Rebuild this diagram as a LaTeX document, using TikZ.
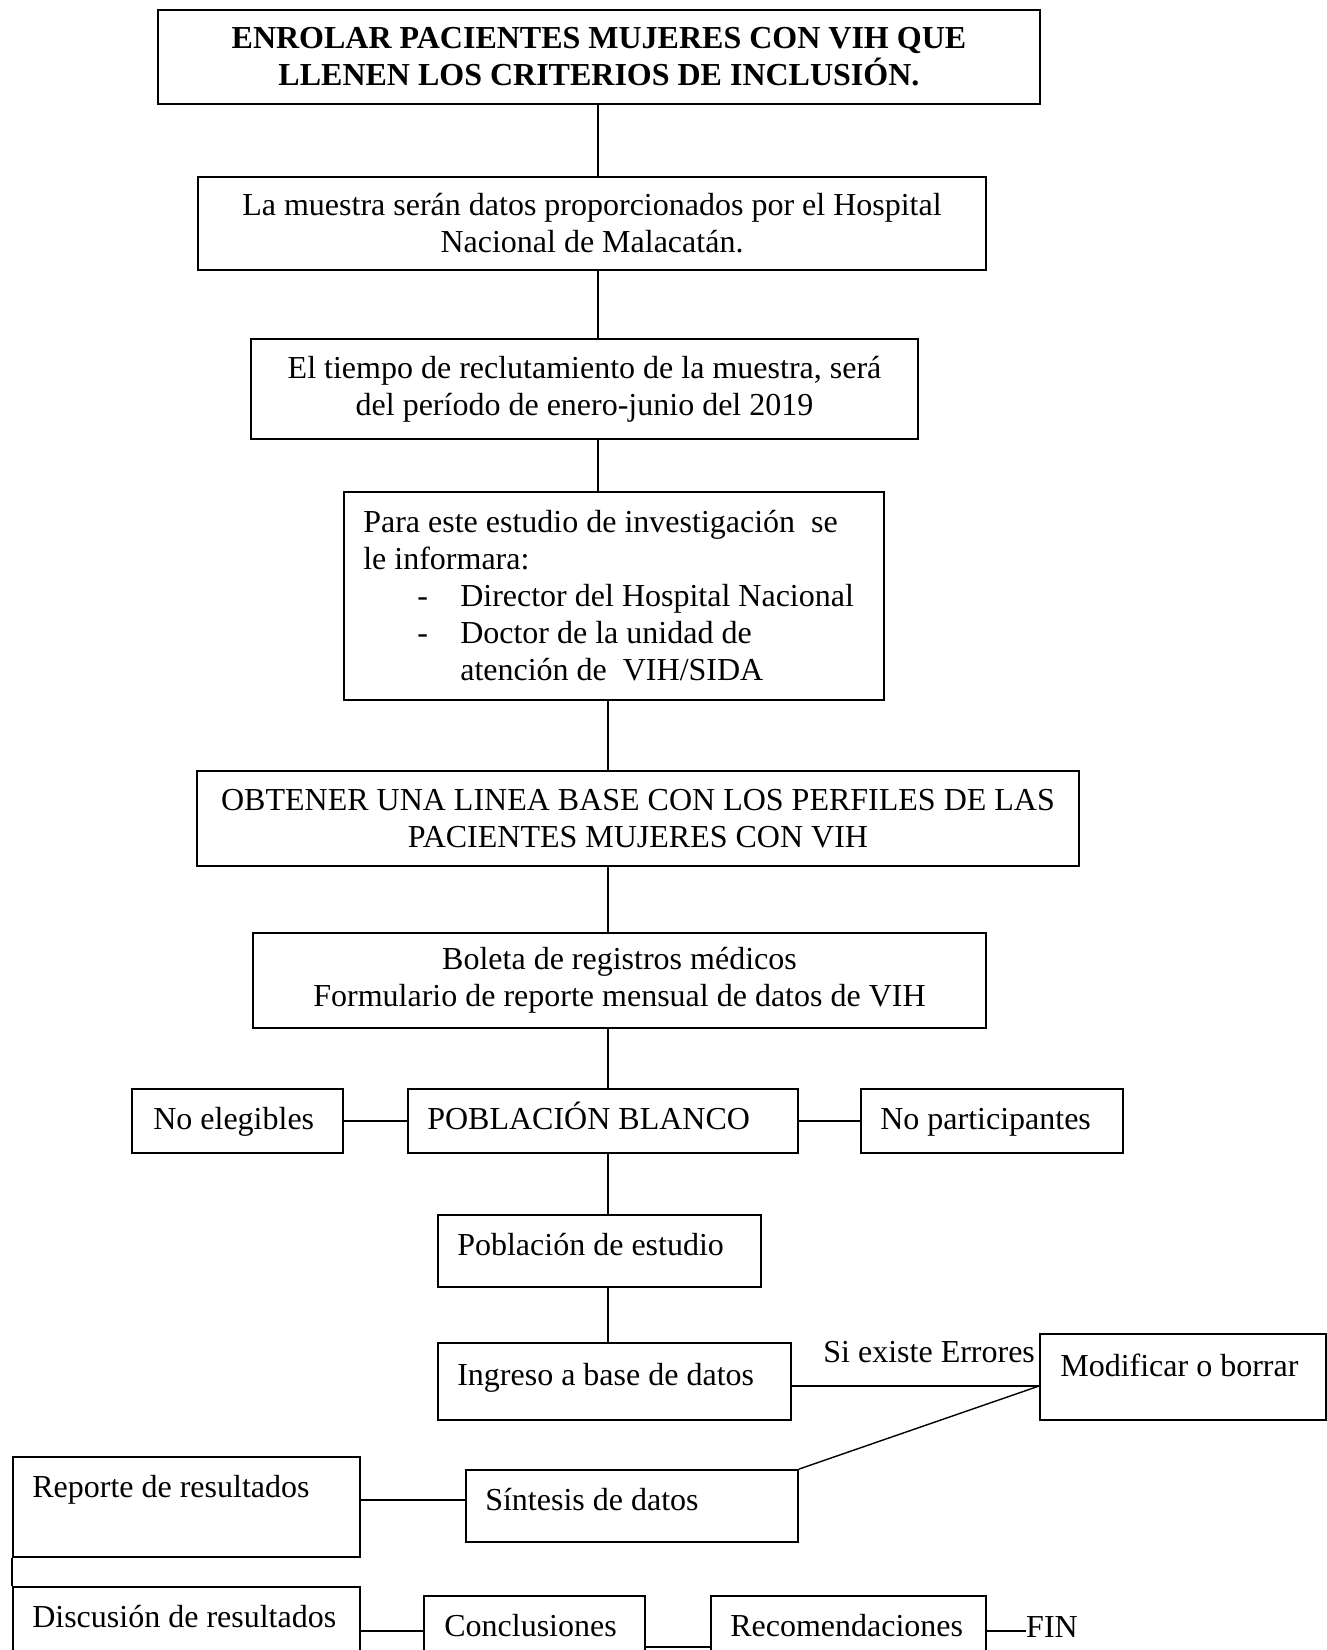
\documentclass[tikz,border=0pt]{standalone}
\usepackage{fontspec}
\setmainfont{Liberation Serif}
\usetikzlibrary{positioning}

\newcommand{\flowfont}{\fontsize{32}{37}\selectfont}

\tikzset{
  box/.style={draw, line width=1.8pt, inner sep=0pt, align=center},
  txt/.style={inner sep=0pt, anchor=base west},
  link/.style={line width=1.4pt}
}

\begin{document}
\begin{tikzpicture}[x=1pt, y=-1pt, font=\flowfont]
  \useasboundingbox (0, 0) rectangle (1327, 1650); % page
  \coordinate (spineA) at (598, 0); % upper trunk
  \coordinate (spineB) at (608, 0); % lower trunk
  \coordinate (errrow) at (0, 1386); % error branch
  \coordinate (midrow) at (0, 1500); % reporte link
  \coordinate (lowrow) at (0, 1631); % last row links
  \coordinate (baserow) at (0, 1647); % conclusiones link

  % main column
  \node[box, minimum width=882pt, minimum height=94pt, font={\flowfont\bfseries}] (enrolar) at (599, 57) {ENROLAR PACIENTES MUJERES CON VIH QUE\\LLENEN LOS CRITERIOS DE INCLUSIÓN.};
  \node[box, minimum width=788pt, minimum height=93pt] (muestra) at (592, 223.5) {La muestra serán datos proporcionados por el Hospital\\Nacional de Malacatán.};
  \node[box, minimum width=667pt, minimum height=100pt] (tiempo) at (584.5, 389) {El tiempo de reclutamiento de la muestra, será\\del período de enero-junio del 2019};
  \node[box, minimum width=540pt, minimum height=208pt] (informar) at (614, 596) {};
  \node[txt, anchor=west, align=left] (informar-t) at ([shift={(20, 0)}]informar.west) {Para este estudio de investigación\ \ se\\le informara:\\\hspace*{54pt}\makebox[43pt][l]{-}Director del Hospital Nacional\\\hspace*{54pt}\makebox[43pt][l]{-}Doctor de la unidad de\\\hspace*{97pt}atención de\ \ VIH/SIDA};
  \node[box, minimum width=882pt, minimum height=95pt] (lineabase) at (638, 818.5) {OBTENER UNA LINEA BASE CON LOS PERFILES DE LAS\\PACIENTES MUJERES CON VIH};
  \node[box, minimum width=733pt, minimum height=95pt] (boleta) at (619.5, 980.5) {Boleta de registros médicos\\Formulario de reporte mensual de datos de VIH};

  % population row
  \node[box, minimum width=211pt, minimum height=64pt] (noeleg) at (237.5, 1121) {};
  \node[txt] (noeleg-t) at ([shift={(22, 41)}]noeleg.north west) {No elegibles};
  \node[box, minimum width=390pt, minimum height=64pt] (blanco) at (603, 1121) {};
  \node[txt] (blanco-t) at ([shift={(20, 41)}]blanco.north west) {POBLACIÓN BLANCO};
  \node[box, minimum width=262pt, minimum height=64pt] (nopart) at (992, 1121) {};
  \node[txt] (nopart-t) at ([shift={(20, 41)}]nopart.north west) {No participantes};

  \node[box, minimum width=323pt, minimum height=72pt] (estudio) at (599.5, 1251) {};
  \node[txt] (estudio-t) at ([shift={(20, 41)}]estudio.north west) {Población de estudio};
  \node[box, minimum width=353pt, minimum height=77pt] (ingreso) at (614.5, 1381.5) {};
  \node[txt] (ingreso-t) at ([shift={(20, 43)}]ingreso.north west) {Ingreso a base de datos};
  \node[box, minimum width=286pt, minimum height=86pt] (modificar) at (1183, 1377) {};
  \node[txt] (modificar-t) at ([shift={(21, 43)}]modificar.north west) {Modificar o borrar};
  \node[box, minimum width=332pt, minimum height=72pt] (sintesis) at (632, 1506) {};
  \node[txt] (sintesis-t) at ([shift={(20, 41)}]sintesis.north west) {Síntesis de datos};

  % results
  \node[box, minimum width=347pt, minimum height=100pt] (reporte) at (186.5, 1507) {};
  \node[txt] (reporte-t) at ([shift={(20, 41)}]reporte.north west) {Reporte de resultados};
  \node[box, minimum width=347pt, minimum height=103pt] (discusion) at (186.5, 1638.5) {};
  \node[txt] (discusion-t) at ([shift={(20, 41)}]discusion.north west) {Discusión de resultados};
  \node[box, minimum width=221pt, minimum height=94pt] (conclus) at (534.5, 1643) {};
  \node[txt] (conclus-t) at ([shift={(21, 41)}]conclus.north west) {Conclusiones};
  \node[box, minimum width=275pt, minimum height=94pt] (recomend) at (848.5, 1643) {};
  \node[txt] (recomend-t) at ([shift={(20, 41)}]recomend.north west) {Recomendaciones};
  \node[txt] (fin) at (1026, 1637) {FIN};

  % links
  \draw[link] (enrolar.south -| spineA) -- (muestra.north -| spineA);
  \draw[link] (muestra.south -| spineA) -- (tiempo.north -| spineA);
  \draw[link] (tiempo.south -| spineA) -- (informar.north -| spineA);
  \draw[link] (informar.south -| spineB) -- (lineabase.north -| spineB);
  \draw[link] (lineabase.south -| spineB) -- (boleta.north -| spineB);
  \draw[link] (boleta.south -| spineB) -- (blanco.north -| spineB);
  \draw[link] (noeleg) -- (blanco);
  \draw[link] (blanco) -- (nopart);
  \draw[link] (blanco.south -| spineB) -- (estudio.north -| spineB);
  \draw[link] (estudio.south -| spineB) -- (ingreso.north -| spineB);
  \draw[link] (ingreso.east |- errrow) -- (modificar.west |- errrow); % si hay errores
  \node[txt, anchor=east] (errlabel) at ([shift={(-4, -34)}]modificar.west |- errrow) {Si existe Errores};
  \draw[link] (modificar.west |- errrow) -- (sintesis.north east);
  \draw[link] (reporte.east |- midrow) -- (sintesis.west |- midrow);
  \draw[link] (reporte.south west) -- (discusion.north west);
  \draw[link] (discusion.east |- lowrow) -- (conclus.west |- lowrow);
  \draw[link] (conclus.east |- baserow) -- (recomend.west |- baserow);
  \draw[link] (recomend.east |- lowrow) -- (fin.west |- lowrow);
\end{tikzpicture}
\end{document}
